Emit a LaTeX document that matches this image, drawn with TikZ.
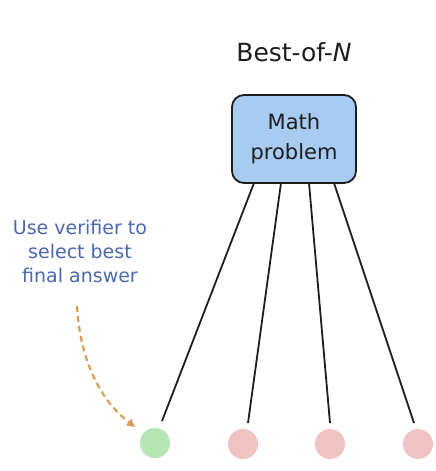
\documentclass[tikz,border=0pt]{standalone}
\usepackage{fontspec}
\setmainfont{DejaVu Sans}
\usetikzlibrary{arrows.meta}
\definecolor{boxfill}{HTML}{A8CBF2}
\definecolor{inkc}{HTML}{1E1E1E}
\definecolor{notec}{HTML}{4A68B0}
\definecolor{arrowc}{HTML}{D9A055}
\definecolor{goodc}{HTML}{B5E5B3}
\definecolor{badc}{HTML}{F0C3C3}
\begin{document}
\begin{tikzpicture}[x=1pt,y=-1pt,
  probbox/.style={draw=inkc,line width=1.8pt,fill=boxfill,rounded corners=12pt,minimum width=124pt,minimum height=88pt,align=center,font=\fontsize{21}{30}\selectfont,text=inkc},
  leaf/.style={circle,minimum size=30pt,inner sep=0pt},
  branch/.style={draw=inkc,line width=1.8pt},
  note/.style={align=center,text=notec,font=\fontsize{19}{24}\selectfont}]
\useasboundingbox (0,0) rectangle (436,471);
\node[font=\fontsize{25}{28}\selectfont,text=inkc] (title) at (294,52) {Best-of-\textit{N}};
\node[probbox] (prob) at (294,139) {Math\\problem};
\node[leaf,fill=goodc] (c1) at (155,443) {};
\node[leaf,fill=badc] (c2) at (243,444) {};
\node[leaf,fill=badc] (c3) at (330,444) {};
\node[leaf,fill=badc] (c4) at (418,444) {};
\coordinate (t1) at (254,183); \coordinate (e1) at (162,421);
\coordinate (t2) at (281,183); \coordinate (e2) at (248,423);
\coordinate (t3) at (309,183); \coordinate (e3) at (330,423);
\coordinate (t4) at (334,183); \coordinate (e4) at (414,423);
\draw[branch] (t1) -- (e1);
\draw[branch] (t2) -- (e2);
\draw[branch] (t3) -- (e3);
\draw[branch] (t4) -- (e4);
\node[note] (verif) at (80,251) {Use verifier to\\select best\\final answer};
\coordinate (a0) at (77,306);
\coordinate (a1) at (135,427);
\draw[draw=arrowc,line width=2.2pt,dashed,dash pattern=on 6pt off 4pt,-{Triangle[length=8pt,width=8pt]}] (a0) .. controls (80,360) and (100,400) .. (a1);
\end{tikzpicture}
\end{document}
